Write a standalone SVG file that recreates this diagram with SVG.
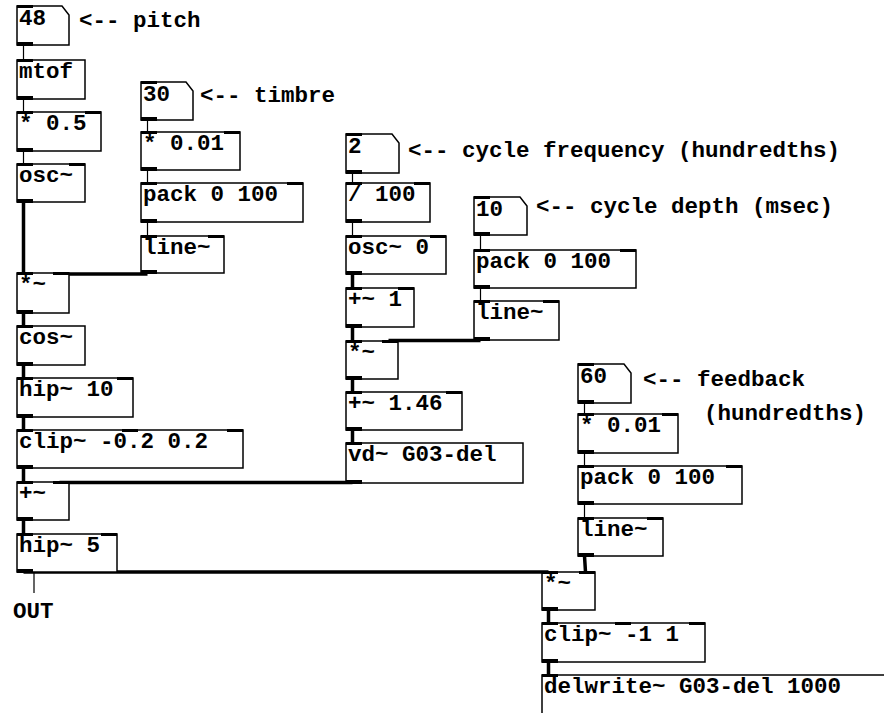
<svg xmlns="http://www.w3.org/2000/svg" width="884" height="713" viewBox="0 0 884 713">
<style>
.b{fill:#fff;stroke:#000;stroke-width:1.5}
.t{font-family:"Liberation Mono","Courier New",monospace;font-weight:bold;font-size:22.5px;fill:#000}
.io{fill:#000}
.c{stroke:#000;stroke-width:1.2;fill:none}
.s{stroke:#000;stroke-width:3.5;fill:none}
</style>
<rect width="884" height="713" fill="#fff"/>
<g id="connectors">
<path class="c" d="M23.5 45V60M23.5 99V112M23.5 151V164M147.5 120V132M147.5 170V183M147.5 222V236M352.5 173V183M352.5 222V236M480.5 235V250M480.5 288V301M584.5 403V414M584.5 453V466M584.5 504V518M34 572V593"/>
<path class="s" d="M23.5 202V273M147.5 274H59.5M23.5 313V326M23.5 365V378M23.5 417V430M23.5 468V482M352.5 482.5H59.5M23.5 520V534M23.5 572H548.5M352.5 274V288M352.5 327V341M480.5 340.5H388.5M352.5 379V392M352.5 430V443M584.5 556L585.5 572M548.5 610V623M548.5 662V675"/>
</g>
<g id="n48"><path class="b" d="M17 6H62L69 15V45H17Z"/><rect class="io" x="17" y="5" width="16" height="3"/><rect class="io" x="17" y="42" width="16" height="4"/><text class="t" x="19" y="24.5">48</text></g>
<g id="mtof"><rect class="b" x="17" y="60" width="68" height="39"/><rect class="io" x="17" y="59" width="16" height="3"/><rect class="io" x="17" y="96" width="16" height="4"/><text class="t" x="19" y="78">mtof</text></g>
<g id="mul05"><rect class="b" x="17" y="112" width="84" height="39"/><rect class="io" x="17" y="111" width="16" height="3"/><rect class="io" x="85" y="111" width="16" height="3"/><rect class="io" x="17" y="148" width="16" height="4"/><text class="t" x="19" y="130">* 0.5</text></g>
<g id="osc1"><rect class="b" x="17" y="164" width="68" height="38"/><rect class="io" x="17" y="163" width="16" height="3"/><rect class="io" x="69" y="163" width="16" height="3"/><rect class="io" x="17" y="199" width="16" height="4"/><text class="t" x="19" y="182">osc~</text></g>
<g id="mulsig1"><rect class="b" x="17" y="273" width="52" height="40"/><rect class="io" x="17" y="272" width="16" height="3"/><rect class="io" x="53" y="272" width="16" height="3"/><rect class="io" x="17" y="310" width="16" height="4"/><text class="t" x="19" y="291">*~</text></g>
<g id="cos"><rect class="b" x="17" y="326" width="68" height="39"/><rect class="io" x="17" y="325" width="16" height="3"/><rect class="io" x="17" y="362" width="16" height="4"/><text class="t" x="19" y="344">cos~</text></g>
<g id="hip10"><rect class="b" x="17" y="378" width="116" height="39"/><rect class="io" x="17" y="377" width="16" height="3"/><rect class="io" x="117" y="377" width="16" height="3"/><rect class="io" x="17" y="414" width="16" height="4"/><text class="t" x="19" y="396">hip~ 10</text></g>
<g id="clip02"><rect class="b" x="17" y="430" width="226" height="38"/><rect class="io" x="17" y="429" width="16" height="3"/><rect class="io" x="122" y="429" width="16" height="3"/><rect class="io" x="227" y="429" width="16" height="3"/><rect class="io" x="17" y="465" width="16" height="4"/><text class="t" x="19" y="448">clip~ -0.2 0.2</text></g>
<g id="addsig"><rect class="b" x="17" y="482" width="52" height="38"/><rect class="io" x="17" y="481" width="16" height="3"/><rect class="io" x="53" y="481" width="16" height="3"/><rect class="io" x="17" y="517" width="16" height="4"/><text class="t" x="19" y="500">+~</text></g>
<g id="hip5"><rect class="b" x="17" y="534" width="100" height="38"/><rect class="io" x="17" y="533" width="16" height="3"/><rect class="io" x="101" y="533" width="16" height="3"/><rect class="io" x="17" y="569" width="16" height="4"/><text class="t" x="19" y="552">hip~ 5</text></g>
<g id="n30"><path class="b" d="M141 82H186L193 91V120H141Z"/><rect class="io" x="141" y="81" width="16" height="3"/><rect class="io" x="141" y="117" width="16" height="4"/><text class="t" x="143" y="100.5">30</text></g>
<g id="mul001a"><rect class="b" x="141" y="132" width="99" height="38"/><rect class="io" x="141" y="131" width="16" height="3"/><rect class="io" x="224" y="131" width="16" height="3"/><rect class="io" x="141" y="167" width="16" height="4"/><text class="t" x="143" y="150">* 0.01</text></g>
<g id="pack1"><rect class="b" x="141" y="183" width="162" height="39"/><rect class="io" x="141" y="182" width="16" height="3"/><rect class="io" x="287" y="182" width="16" height="3"/><rect class="io" x="141" y="219" width="16" height="4"/><text class="t" x="143" y="201">pack 0 100</text></g>
<g id="line1"><rect class="b" x="141" y="236" width="83" height="37"/><rect class="io" x="141" y="235" width="16" height="3"/><rect class="io" x="208" y="235" width="16" height="3"/><rect class="io" x="141" y="270" width="16" height="4"/><text class="t" x="143" y="254">line~</text></g>
<g id="n2"><path class="b" d="M346 134H392L399 143V173H346Z"/><rect class="io" x="346" y="133" width="16" height="3"/><rect class="io" x="346" y="170" width="16" height="4"/><text class="t" x="348" y="152.5">2</text></g>
<g id="div100"><rect class="b" x="346" y="183" width="84" height="39"/><rect class="io" x="346" y="182" width="16" height="3"/><rect class="io" x="414" y="182" width="16" height="3"/><rect class="io" x="346" y="219" width="16" height="4"/><text class="t" x="348" y="201">/ 100</text></g>
<g id="osc0"><rect class="b" x="346" y="236" width="100" height="38"/><rect class="io" x="346" y="235" width="16" height="3"/><rect class="io" x="430" y="235" width="16" height="3"/><rect class="io" x="346" y="271" width="16" height="4"/><text class="t" x="348" y="254">osc~ 0</text></g>
<g id="add1"><rect class="b" x="346" y="288" width="68" height="39"/><rect class="io" x="346" y="287" width="16" height="3"/><rect class="io" x="398" y="287" width="16" height="3"/><rect class="io" x="346" y="324" width="16" height="4"/><text class="t" x="348" y="306">+~ 1</text></g>
<g id="mulsig2"><rect class="b" x="346" y="341" width="52" height="38"/><rect class="io" x="346" y="340" width="16" height="3"/><rect class="io" x="382" y="340" width="16" height="3"/><rect class="io" x="346" y="376" width="16" height="4"/><text class="t" x="348" y="359">*~</text></g>
<g id="add146"><rect class="b" x="346" y="392" width="116" height="38"/><rect class="io" x="346" y="391" width="16" height="3"/><rect class="io" x="446" y="391" width="16" height="3"/><rect class="io" x="346" y="427" width="16" height="4"/><text class="t" x="348" y="410">+~ 1.46</text></g>
<g id="vd"><rect class="b" x="346" y="443" width="177" height="40"/><rect class="io" x="346" y="442" width="16" height="3"/><rect class="io" x="346" y="480" width="16" height="4"/><text class="t" x="348" y="461">vd~ G03-del</text></g>
<g id="n10"><path class="b" d="M474 197H520L527 206V235H474Z"/><rect class="io" x="474" y="196" width="16" height="3"/><rect class="io" x="474" y="232" width="16" height="4"/><text class="t" x="476" y="215.5">10</text></g>
<g id="pack2"><rect class="b" x="474" y="250" width="162" height="38"/><rect class="io" x="474" y="249" width="16" height="3"/><rect class="io" x="620" y="249" width="16" height="3"/><rect class="io" x="474" y="285" width="16" height="4"/><text class="t" x="476" y="268">pack 0 100</text></g>
<g id="line2"><rect class="b" x="474" y="301" width="85" height="39"/><rect class="io" x="474" y="300" width="16" height="3"/><rect class="io" x="543" y="300" width="16" height="3"/><rect class="io" x="474" y="337" width="16" height="4"/><text class="t" x="476" y="319">line~</text></g>
<g id="n60"><path class="b" d="M578 364H624L631 373V403H578Z"/><rect class="io" x="578" y="363" width="16" height="3"/><rect class="io" x="578" y="400" width="16" height="4"/><text class="t" x="580" y="382.5">60</text></g>
<g id="mul001b"><rect class="b" x="578" y="414" width="100" height="39"/><rect class="io" x="578" y="413" width="16" height="3"/><rect class="io" x="662" y="413" width="16" height="3"/><rect class="io" x="578" y="450" width="16" height="4"/><text class="t" x="580" y="432">* 0.01</text></g>
<g id="pack3"><rect class="b" x="578" y="466" width="164" height="38"/><rect class="io" x="578" y="465" width="16" height="3"/><rect class="io" x="726" y="465" width="16" height="3"/><rect class="io" x="578" y="501" width="16" height="4"/><text class="t" x="580" y="484">pack 0 100</text></g>
<g id="line3"><rect class="b" x="578" y="518" width="85" height="38"/><rect class="io" x="578" y="517" width="16" height="3"/><rect class="io" x="647" y="517" width="16" height="3"/><rect class="io" x="578" y="553" width="16" height="4"/><text class="t" x="580" y="536">line~</text></g>
<g id="mulsig3"><rect class="b" x="542" y="572" width="53" height="38"/><rect class="io" x="542" y="571" width="16" height="3"/><rect class="io" x="579" y="571" width="16" height="3"/><rect class="io" x="542" y="607" width="16" height="4"/><text class="t" x="544" y="590">*~</text></g>
<g id="clip1"><rect class="b" x="542" y="623" width="163" height="39"/><rect class="io" x="542" y="622" width="16" height="3"/><rect class="io" x="615" y="622" width="16" height="3"/><rect class="io" x="689" y="622" width="16" height="3"/><rect class="io" x="542" y="659" width="16" height="4"/><text class="t" x="544" y="641">clip~ -1 1</text></g>
<g id="delwrite"><rect class="b" x="542" y="675" width="360" height="60"/><rect class="io" x="542" y="674" width="16" height="3"/><text class="t" x="544" y="693">delwrite~ G03-del 1000</text></g>
<g id="comments">
<text class="t" x="79" y="27">&lt;-- pitch</text>
<text class="t" x="200" y="102">&lt;-- timbre</text>
<text class="t" x="408" y="157">&lt;-- cycle frequency (hundredths)</text>
<text class="t" x="536" y="213">&lt;-- cycle depth (msec)</text>
<text class="t" x="643" y="386">&lt;-- feedback</text>
<text class="t" x="704" y="420">(hundredths)</text>
<text class="t" x="13" y="618">OUT</text>
</g>
</svg>
